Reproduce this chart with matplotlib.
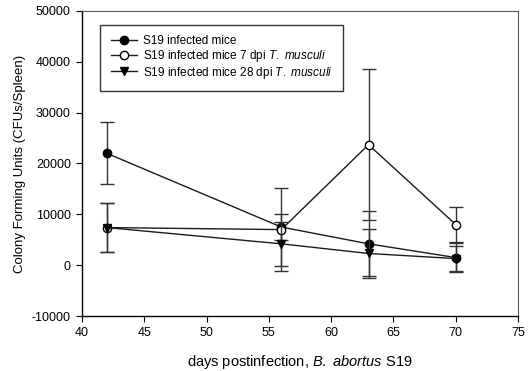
import matplotlib.pyplot as plt

plt.rcParams.update({
    "font.family": "Liberation Sans",
    "mathtext.fontset": "custom",
    "mathtext.rm": "Liberation Sans",
    "mathtext.it": "Liberation Sans:italic",
    "axes.unicode_minus": False,
})

days = [42, 56, 63, 70]

s19_mean = [22000, 7500, 4200, 1500]
s19_err = [6100, 2500, 6400, 2900]

s19_7dpi_mean = [7400, 7000, 23700, 8000]
s19_7dpi_err = [4800, 8200, 14800, 3500]

s19_28dpi_mean = [7400, 4200, 2300, 1300]
s19_28dpi_err = [4800, 4300, 4800, 2400]

labels = [
    "S19 infected mice",
    r"S19 infected mice 7 dpi $\it{T.\ musculi}$",
    r"S19 infected mice 28 dpi $\it{T.\ musculi}$",
]

fig = plt.figure(figsize=(5.31, 3.71), dpi=100)
ax = fig.add_axes([0.1544, 0.1482, 0.8211, 0.8222])

series = [
    (s19_mean, s19_err, "o", "black"),
    (s19_7dpi_mean, s19_7dpi_err, "o", "white"),
    (s19_28dpi_mean, s19_28dpi_err, "v", "black"),
]
for (mean, err, marker, face), label in zip(series, labels):
    ax.errorbar(days, mean, yerr=err, fmt="none", ecolor="#333333",
                elinewidth=1.0, capsize=5, capthick=1.0)
    ax.plot(days, mean, marker=marker, color="#1a1a1a", linewidth=1.0,
            markersize=6, mfc=face, mec="black", label=label)

ax.set_xlim(40, 75)
ax.set_ylim(-10000, 50000)
ax.set_xticks(range(40, 76, 5))
ax.set_yticks(range(-10000, 50001, 10000))
ax.tick_params(axis="both", direction="out", length=4, labelsize=9,
               top=False, right=False, pad=4)
for side in ["left", "bottom"]:
    ax.spines[side].set_linewidth(1.0)
for side in ["top", "right"]:
    ax.spines[side].set_linewidth(0.8)
    ax.spines[side].set_color("#555555")

ax.set_xlabel(r"days postinfection, $\it{B.\ abortus}$ S19", fontsize=10.5, labelpad=10)
ax.set_ylabel("Colony Forming Units (CFUs/Spleen)", fontsize=9.5, labelpad=4)

leg = ax.legend(loc="upper left", bbox_to_anchor=(0.042, 0.955), fontsize=8.5,
                frameon=True, fancybox=False, edgecolor="black",
                handlelength=2.2, handletextpad=0.5, borderpad=0.9,
                labelspacing=0.05, borderaxespad=0)
leg.get_frame().set_linewidth(1.0)

fig.savefig("out.png", dpi=100)
